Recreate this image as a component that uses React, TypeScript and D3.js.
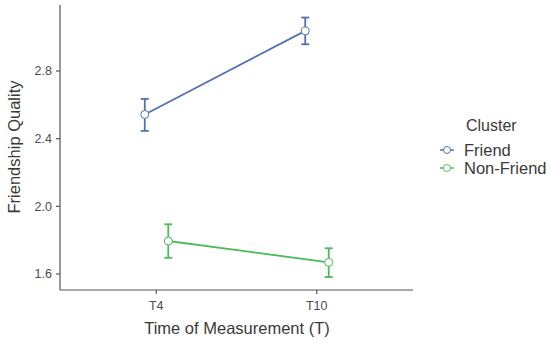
import React from "react";
import * as d3 from "d3";

const times = ["T4", "T10"];
const clusters = ["Friend", "Non-Friend"];
const means = [
  [2.543, 3.037],
  [1.795, 1.669],
];
const lower = [
  [2.446, 2.958],
  [1.696, 1.582],
];
const upper = [
  [2.635, 3.116],
  [1.894, 1.752],
];
const yTicks = [1.6, 2.0, 2.4, 2.8];
const colors = ["#5470b4", "#4cba5a"];

export default function App() {
  const W = 550, H = 344;
  const x = d3.scalePoint<string>().domain(times).range([60, 413]).padding(0.6);
  const y = d3.scaleLinear().domain([1.6, 2.8]).range([274, 71]);
  const dodge = [-11.5, 12];
  const font = "Liberation Sans, Arial, sans-serif";
  const axisCol = "#555";
  const line = d3.line<[number, number]>().x((d) => d[0]).y((d) => d[1]);
  return (
    <svg width={W} height={H} style={{ position: "absolute", left: 0, top: 0 }} fontFamily={font}>
      <rect width={W} height={H} fill="#fff" />
      <line x1={60} x2={60} y1={5} y2={290} stroke={axisCol} strokeWidth={1.2} />
      <line x1={60} x2={413} y1={290} y2={290} stroke={axisCol} strokeWidth={1.2} />
      {yTicks.map((t) => (
        <g key={t}>
          <line x1={56} x2={60} y1={y(t)} y2={y(t)} stroke={axisCol} strokeWidth={1.2} />
          <text x={52} y={y(t)} dy="0.35em" textAnchor="end" fontSize={12.5} fill="#4d4d4d">
            {t.toFixed(1)}
          </text>
        </g>
      ))}
      {times.map((t) => (
        <g key={t}>
          <line x1={x(t)!} x2={x(t)!} y1={290} y2={294} stroke={axisCol} strokeWidth={1.2} />
          <text x={x(t)!} y={310} textAnchor="middle" fontSize={12.5} fill="#4d4d4d">
            {t}
          </text>
        </g>
      ))}
      <text x={237} y={334} textAnchor="middle" fontSize={16.5} fill="#3a3a3a">
        Time of Measurement (T)
      </text>
      <text
        transform={`translate(20,147) rotate(-90)`}
        textAnchor="middle"
        fontSize={16.5}
        fill="#3a3a3a"
      >
        Friendship Quality
      </text>
      {clusters.map((c, ci) => {
        const pts: [number, number][] = times.map((t, ti) => [x(t)! + dodge[ci], y(means[ci][ti])]);
        return (
          <g key={c}>
            <path d={line(pts)!} fill="none" stroke={colors[ci]} strokeWidth={1.8} />
            {times.map((t, ti) => {
              const px = x(t)! + dodge[ci];
              return (
                <g key={t}>
                  <line x1={px} x2={px} y1={y(lower[ci][ti])} y2={y(upper[ci][ti])} stroke={colors[ci]} strokeWidth={1.8} />
                  <line x1={px - 4} x2={px + 4} y1={y(lower[ci][ti])} y2={y(lower[ci][ti])} stroke={colors[ci]} strokeWidth={1.8} />
                  <line x1={px - 4} x2={px + 4} y1={y(upper[ci][ti])} y2={y(upper[ci][ti])} stroke={colors[ci]} strokeWidth={1.8} />
                  <circle cx={px} cy={y(means[ci][ti])} r={4} fill="#fff" stroke={colors[ci]} strokeWidth={1} />
                </g>
              );
            })}
          </g>
        );
      })}
      <text x={466} y={131} fontSize={16} fill="#3a3a3a">
        Cluster
      </text>
      {clusters.map((c, ci) => {
        const ly = 150 + ci * 18;
        return (
          <g key={c}>
            <line x1={440} x2={454} y1={ly} y2={ly} stroke={colors[ci]} strokeWidth={1.5} />
            <circle cx={447} cy={ly} r={3.5} fill="#fff" stroke={colors[ci]} strokeWidth={1} />
            <text x={464} y={ly} dy="0.35em" fontSize={16.5} fill="#3a3a3a">
              {c}
            </text>
          </g>
        );
      })}
    </svg>
  );
}
